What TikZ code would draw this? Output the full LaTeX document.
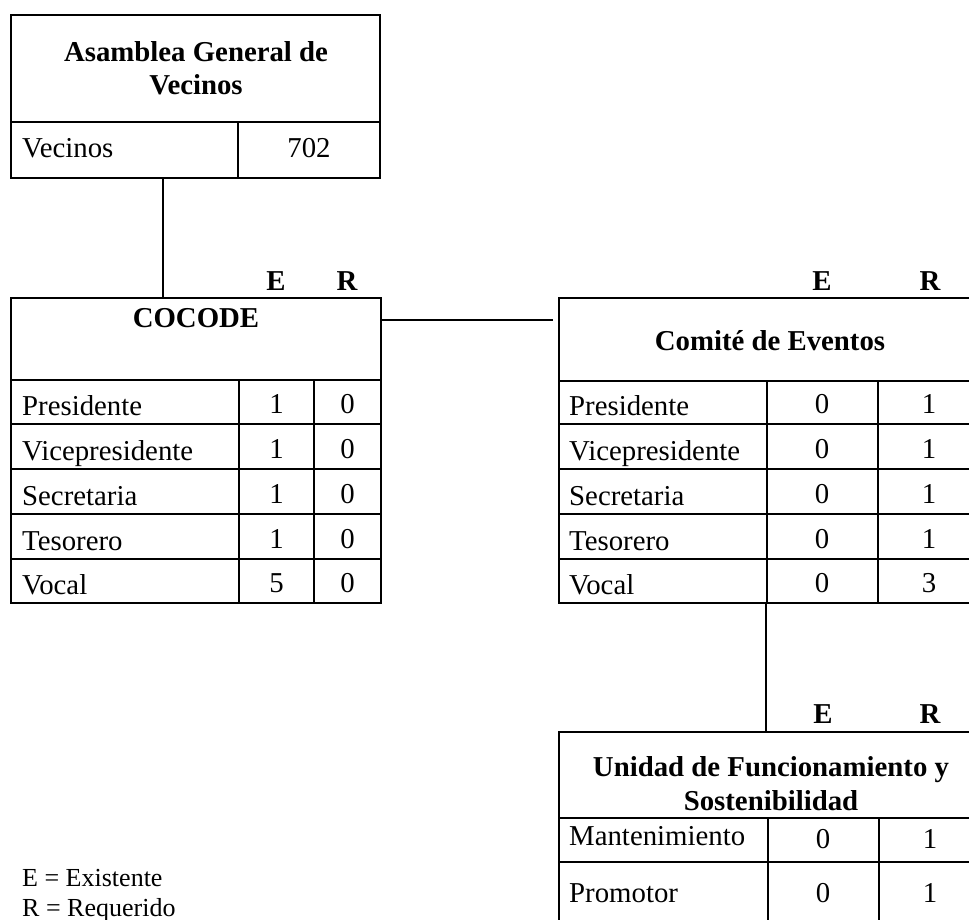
\documentclass[tikz,border=0pt]{standalone}
\usepackage{fontspec}
\setmainfont{Liberation Serif}
\usetikzlibrary{fit,calc}
\tikzset{
  cell/.style={draw, line width=2pt, inner sep=0pt},
  txt/.style={inner sep=0pt, font=\fontsize{28.8}{33}\selectfont},
  lbl/.style={txt, anchor=base west},
  num/.style={txt, anchor=base},
  ttl/.style={inner sep=0pt, anchor=base, font=\fontsize{28.8}{33}\selectfont\bfseries},
  leg/.style={inner sep=0pt, anchor=base west, font=\fontsize{26}{30}\selectfont},
  conn/.style={line width=2pt}
}
\begin{document}
\begin{tikzpicture}[x=1pt,y=-1pt]
\useasboundingbox (0,0) rectangle (969,920);
\clip (0,0) rectangle (969,920);

% ---------------- Asamblea General de Vecinos
\node[cell, fit={(11,15)(380,122)}] (asmT) {};
\node[cell, fit={(11,122)(238,178)}] (asmL) {};
\node[cell, fit={(238,122)(380,178)}] (asmV) {};
\node[ttl] (asmT1) at (196,62) {Asamblea General de};
\node[ttl] (asmT2) at (196,95) {Vecinos};
\node[lbl] (asmLt) at (22,158) {Vecinos};
\node[num] (asmVt) at (309,158) {702};

% ---------------- COCODE
\node[cell, fit={(11,298)(381,380)}] (cocT) {};
\node[ttl] (cocTt) at (196,327) {COCODE};
\node[ttl] (cocE) at (276,290) {E};
\node[ttl] (cocR) at (347,290) {R};
\foreach \i/\a/\b/\lab/\e/\r in {1/380/424/Presidente/1/0,
                                 2/424/469/Vicepresidente/1/0,
                                 3/469/514/Secretaria/1/0,
                                 4/514/559/Tesorero/1/0,
                                 5/559/603/Vocal/5/0}{
  \node[cell, fit={(11,\a)(239,\b)}] (cocL\i) {};
  \node[cell, fit={(239,\a)(314,\b)}] (cocEc\i) {};
  \node[cell, fit={(314,\a)(381,\b)}] (cocRc\i) {};
  \node[lbl] (cocLt\i) at (22,\b-9) {\lab};
  \node[num] (cocEt\i) at (276.5,\b-11) {\e};
  \node[num] (cocRt\i) at (347.5,\b-11) {\r};
}

% ---------------- Comité de Eventos
\node[cell, fit={(559,298)(989,381)}] (comT) {};
\node[ttl] (comTt) at (770,350) {Comité de Eventos};
\node[ttl] (comE) at (822,290) {E};
\node[ttl] (comR) at (930,290) {R};
\foreach \i/\a/\b/\lab/\e/\r in {1/381/424/Presidente/0/1,
                                 2/424/469/Vicepresidente/0/1,
                                 3/469/514/Secretaria/0/1,
                                 4/514/559/Tesorero/0/1,
                                 5/559/603/Vocal/0/3}{
  \node[cell, fit={(559,\a)(767,\b)}] (comL\i) {};
  \node[cell, fit={(767,\a)(878,\b)}] (comEc\i) {};
  \node[cell, fit={(878,\a)(989,\b)}] (comRc\i) {};
  \node[lbl] (comLt\i) at (569,\b-9) {\lab};
  \node[num] (comEt\i) at (822,\b-11) {\e};
  \node[num] (comRt\i) at (929,\b-11) {\r};
}

% ---------------- Unidad de Funcionamiento y Sostenibilidad
\node[cell, fit={(559,732)(989,818)}] (uniT) {};
\node[ttl] (uniT1) at (771,776) {Unidad de Funcionamiento y};
\node[ttl] (uniT2) at (771,810) {Sostenibilidad};
\node[ttl] (uniE) at (823,723) {E};
\node[ttl] (uniR) at (930,723) {R};
\node[cell, fit={(559,818)(768,862)}] (uniL1) {};
\node[cell, fit={(768,818)(879,862)}] (uniEc1) {};
\node[cell, fit={(879,818)(989,862)}] (uniRc1) {};
\node[cell, fit={(559,862)(768,935)}] (uniL2) {};
\node[cell, fit={(768,862)(879,935)}] (uniEc2) {};
\node[cell, fit={(879,862)(989,935)}] (uniRc2) {};
\node[lbl] (uniLt1) at (569,845) {Mantenimiento};
\node[num] (uniEt1) at (823,848) {0};
\node[num] (uniRt1) at (930,848) {1};
\node[lbl] (uniLt2) at (569,902) {Promotor};
\node[num] (uniEt2) at (823,902) {0};
\node[num] (uniRt2) at (930,902) {1};

% ---------------- connectors
\draw[conn] ([xshift=153pt]asmL.south west) -- ([xshift=153pt]cocT.north west);
\draw[conn] ([yshift=-23pt]cocT.north east) -- ([yshift=-23pt,xshift=-5pt]comT.north west);
\draw[conn] (comEc5.south west) -- (uniT.north west -| comEc5.south west);

% ---------------- legend
\node[leg] (legE) at (22,886) {E = Existente};
\node[leg] (legR) at (22,916) {R = Requerido};
\end{tikzpicture}
\end{document}
